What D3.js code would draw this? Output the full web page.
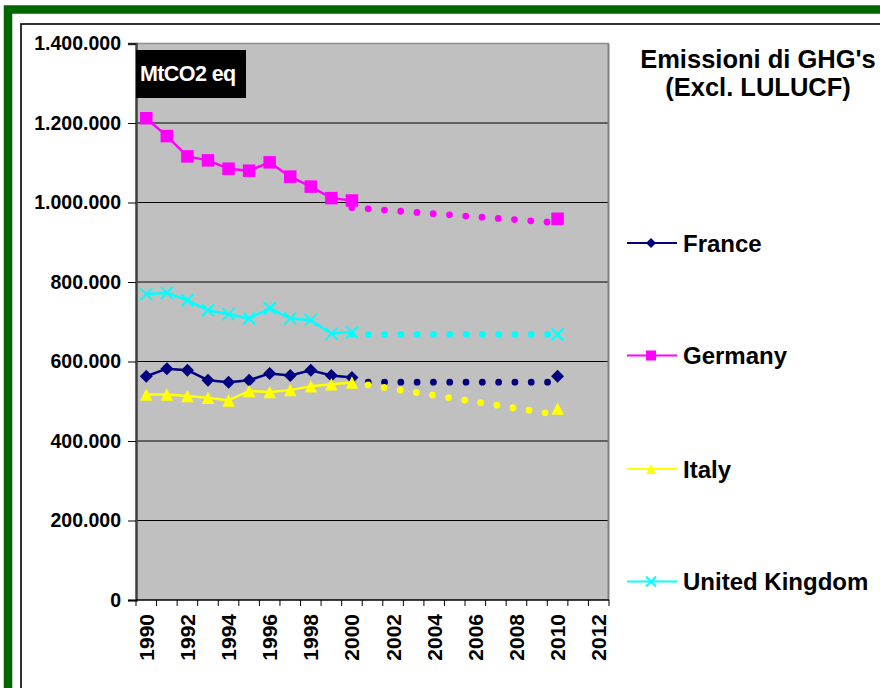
<!DOCTYPE html>
<html>
<head>
<meta charset="utf-8">
<script src="https://cdn.jsdelivr.net/npm/d3@7"></script>
<style>
  html, body { margin: 0; padding: 0; background: #ffffff; }
  svg { display: block; font-family: "Liberation Sans", Arial, sans-serif; font-weight: bold; }
</style>
</head>
<body>
<svg id="chart" width="880" height="688"></svg>
<script>
// ---- data ----
const years = [1990, 1991, 1992, 1993, 1994, 1995, 1996, 1997, 1998, 1999, 2000,
               2001, 2002, 2003, 2004, 2005, 2006, 2007, 2008, 2009, 2010, 2011, 2012];
const labelYears = [1990, 1992, 1994, 1996, 1998, 2000, 2002, 2004, 2006, 2008, 2010, 2012];
const histYears = [1990, 1991, 1992, 1993, 1994, 1995, 1996, 1997, 1998, 1999, 2000];
const yTicks = [0, 200000, 400000, 600000, 800000, 1000000, 1200000, 1400000];

const seriesNames = ["France", "Germany", "Italy", "United Kingdom"];
const france  = [563000, 582000, 578000, 553000, 548000, 553000, 570000, 565000, 578000, 565000, 560000];
const germany = [1212000, 1167000, 1116000, 1106000, 1085000, 1080000, 1101000, 1065000, 1040000, 1011000, 1005000];
const italy   = [517000, 517000, 513000, 509000, 502000, 526000, 523000, 528000, 538000, 543000, 547000];
const uk      = [769000, 773000, 754000, 729000, 719000, 708000, 734000, 708000, 704000, 670000, 674000];

const targetYear = 2010;
const target = [563000, 959000, 482000, 668000];          // France, Germany, Italy, UK
const projYears = [2000, 2010];
const projFrance  = [548000, 548000];
const projGermany = [987000, 949000];
const projItaly   = [547500, 466000];
const projUK      = [668000, 668000];

const colors = ["#000080", "#ff00ff", "#ffff00", "#00ffff"];
const markers = ["diamond", "square", "triangle", "cross"];

// ---- layout ----
const svg = d3.select("#chart");
const pLeft = 136, pRight = 609, pTop = 43.5, pBottom = 600;

// frames
svg.append("rect").attr("x", 8).attr("y", 9.5).attr("width", 900).attr("height", 700)
  .attr("fill", "none").attr("stroke", "#006600").attr("stroke-width", 8.5);
svg.append("rect").attr("x", 21).attr("y", 24).attr("width", 900).attr("height", 700)
  .attr("fill", "none").attr("stroke", "#000").attr("stroke-width", 1.6);

const x = d3.scaleBand().domain(years).range([pLeft, pRight]).paddingInner(0).paddingOuter(0);
const y = d3.scaleLinear().domain([0, 1400000]).range([pBottom, pTop]);
const cx = d => x(d) + x.bandwidth() / 2;

// plot area
svg.append("rect").attr("x", pLeft).attr("y", pTop).attr("width", pRight - pLeft).attr("height", pBottom - pTop)
  .attr("fill", "#c0c0c0");

// gridlines
svg.append("g").selectAll("line").data(yTicks.filter(d => d > 0 && d < 1400000)).join("line")
  .attr("x1", pLeft).attr("x2", pRight).attr("y1", d => y(d)).attr("y2", d => y(d))
  .attr("stroke", "#000").attr("stroke-width", 1);

// plot border (top/right grey)
svg.append("line").attr("x1", pLeft).attr("x2", pRight).attr("y1", pTop).attr("y2", pTop)
  .attr("stroke", "#8c8c8c").attr("stroke-width", 1.5);
svg.append("line").attr("x1", pRight - 0.5).attr("x2", pRight - 0.5).attr("y1", pTop).attr("y2", pBottom)
  .attr("stroke", "#808080").attr("stroke-width", 2);

// y axis
const fmt = d3.formatLocale({decimal: ",", thousands: ".", grouping: [3], currency: ["", ""]}).format(",d");
const yAxis = svg.append("g").attr("transform", `translate(${pLeft},0)`)
  .call(d3.axisLeft(y).tickValues(yTicks).tickFormat(fmt).tickSize(8).tickPadding(7));
yAxis.select(".domain").attr("stroke", "#404040").attr("stroke-width", 2.5);
yAxis.selectAll(".tick line").attr("stroke", "#000");
yAxis.selectAll("text").attr("font-size", 19.5).attr("fill", "#000")
  .attr("font-family", "'Liberation Sans', Arial, sans-serif").attr("font-weight", "bold");

// x axis
const xAxis = svg.append("g").attr("transform", `translate(0,${pBottom})`)
  .call(d3.axisBottom(x).tickValues(labelYears).tickSize(0).tickPadding(0));
xAxis.select(".domain").remove();
xAxis.selectAll("text")
  .attr("font-size", 21).attr("fill", "#000")
  .attr("font-family", "'Liberation Sans', Arial, sans-serif").attr("font-weight", "bold")
  .attr("transform", "rotate(-90)")
  .attr("text-anchor", "end").attr("x", -14).attr("y", 0).attr("dy", "0.36em");
svg.append("line").attr("x1", pLeft).attr("x2", pRight).attr("y1", pBottom).attr("y2", pBottom)
  .attr("stroke", "#000").attr("stroke-width", 1.5);
svg.append("g").selectAll("line").data(years.concat(["end"])).join("line")
  .attr("x1", d => d === "end" ? pRight : x(d)).attr("x2", d => d === "end" ? pRight : x(d))
  .attr("y1", pBottom).attr("y2", pBottom + 6).attr("stroke", "#000").attr("stroke-width", 1);

// marker drawing
function drawMarker(g, type, color, size) {
  const h = size / 2;
  if (type === "diamond") {
    g.append("path").attr("d", `M0,${-h}L${h},0L0,${h}L${-h},0Z`).attr("fill", color);
  } else if (type === "square") {
    g.append("rect").attr("x", -h).attr("y", -h).attr("width", size).attr("height", size).attr("fill", color);
  } else if (type === "triangle") {
    g.append("path").attr("d", `M0,${-h}L${h},${h}L${-h},${h}Z`).attr("fill", color);
  } else if (type === "cross") {
    g.append("path").attr("d", `M${-h},${-h}L${h},${h}M${-h},${h}L${h},${-h}`)
      .attr("stroke", color).attr("stroke-width", 2).attr("fill", "none");
  }
}

const hist = [france, germany, italy, uk];
const proj = [projFrance, projGermany, projItaly, projUK];

// projections (dotted)
const line = d3.line().x(d => cx(d[0])).y(d => y(d[1]));
proj.forEach((p, i) => {
  svg.append("path").datum(projYears.map((yr, j) => [yr, p[j]]))
    .attr("d", line).attr("fill", "none").attr("stroke", colors[i])
    .attr("stroke-width", 6.8).attr("stroke-linecap", "round").attr("stroke-dasharray", "0 16.3");
});

// historic series
hist.forEach((vals, i) => {
  const pts = histYears.map((yr, j) => [yr, vals[j]]);
  svg.append("path").datum(pts).attr("d", line).attr("fill", "none")
    .attr("stroke", colors[i]).attr("stroke-width", 2.5);
  const size = markers[i] === "cross" ? 12 : (markers[i] === "diamond" ? 13 : 12.5);
  pts.concat([[targetYear, target[i]]]).forEach(p => {
    const g = svg.append("g").attr("transform", `translate(${cx(p[0])},${y(p[1])})`);
    drawMarker(g, markers[i], colors[i], size);
  });
});

// unit box
svg.append("rect").attr("x", pLeft).attr("y", 50).attr("width", 110).attr("height", 48).attr("fill", "#000");
svg.append("text").attr("x", 140).attr("y", 80.5).attr("fill", "#fff").attr("font-size", 21.5)
  .attr("letter-spacing", "-0.6").text("MtCO2 eq");

// title
svg.append("text").attr("x", 758).attr("y", 68).attr("text-anchor", "middle").attr("font-size", 25.5)
  .attr("fill", "#000").text("Emissioni di GHG's");
svg.append("text").attr("x", 758).attr("y", 96).attr("text-anchor", "middle").attr("font-size", 25.5)
  .attr("fill", "#000").text("(Excl. LULUCF)");

// legend
const legendY = [243, 355.5, 469, 581.5];
seriesNames.forEach((name, i) => {
  const g = svg.append("g").attr("transform", `translate(0,${legendY[i]})`);
  g.append("line").attr("x1", 627).attr("x2", 677).attr("y1", 0).attr("y2", 0)
    .attr("stroke", colors[i]).attr("stroke-width", 1.8);
  const mg = g.append("g").attr("transform", "translate(651,0)");
  drawMarker(mg, markers[i], colors[i], 10);
  g.append("text").attr("x", 683).attr("y", 0).attr("dy", "0.36em").attr("font-size", 24)
    .attr("fill", "#000").text(name);
});
</script>
</body>
</html>
